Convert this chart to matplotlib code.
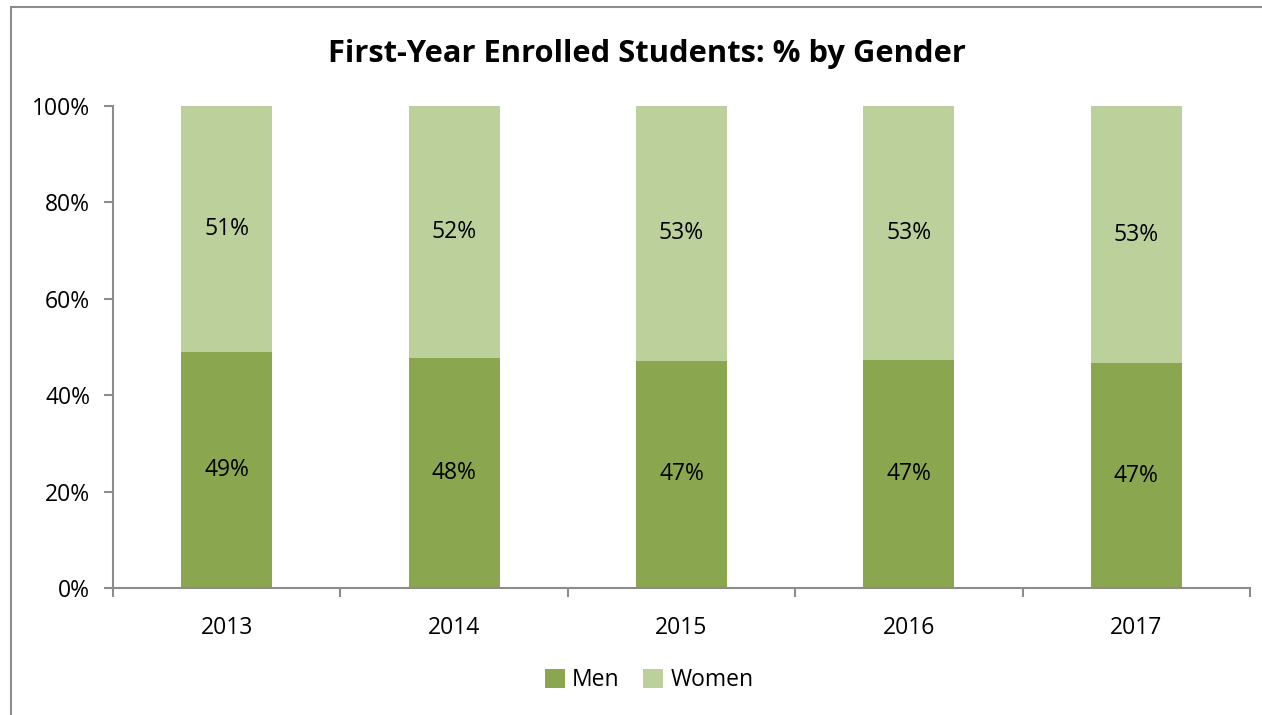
import matplotlib.pyplot as plt
import numpy as np
from matplotlib.patches import Rectangle

# data
years = ["2013", "2014", "2015", "2016", "2017"]
men = [48.9, 47.8, 47.1, 47.2, 46.6]
women = [51.1, 52.2, 52.9, 52.8, 53.4]
men_labels = ["49%", "48%", "47%", "47%", "47%"]
women_labels = ["51%", "52%", "53%", "53%", "53%"]

plt.rcParams['font.family'] = ['Open Sans', 'DejaVu Sans']

fig = plt.figure(figsize=(12.62, 7.15), dpi=100)
ax = fig.add_axes([113/1262, 1-588/715, (1250-113)/1262, (588-106)/715])

# outer chart border (Excel style)
fig.patches.append(Rectangle((11/1262, -0.1), 1.2, 1.1 - 7/715,
                             transform=fig.transFigure, fill=False,
                             edgecolor='#8c8c8c', linewidth=1.5))

x = np.arange(len(years))
c_men = '#8aa64f'
c_women = '#bbd09a'
b1 = ax.bar(x, men, width=0.4, color=c_men, label='Men')
b2 = ax.bar(x, women, width=0.4, bottom=men, color=c_women, label='Women')

fs = 16.5
for i in range(len(years)):
    ax.text(x[i], men[i]/2, men_labels[i], ha='center', va='center', fontsize=fs)
    ax.text(x[i], men[i] + women[i]/2, women_labels[i], ha='center', va='center', fontsize=fs)

ax.set_xlim(-0.5, 4.5)
ax.set_ylim(0, 100)
ax.set_yticks(np.arange(0, 101, 20))
ax.set_yticklabels([f"{v}%" for v in range(0, 101, 20)], fontsize=fs)
ax.set_xticks(x)
ax.set_xticklabels(years, fontsize=fs)
ax.set_xticks(np.arange(-0.5, 5, 1), minor=True)
ax.tick_params(axis='x', which='major', length=0, pad=20)
ax.tick_params(axis='x', which='minor', length=6.5, color='#8c8c8c', width=1.5)
ax.tick_params(axis='y', length=6.5, color='#8c8c8c', width=1.5, pad=10)

for s in ['top', 'right']:
    ax.spines[s].set_visible(False)
for s in ['left', 'bottom']:
    ax.spines[s].set_color('#8c8c8c')
    ax.spines[s].set_linewidth(1.5)

fig.suptitle("First-Year Enrolled Students: % by Gender", fontsize=22.2,
             fontweight='bold', y=1-54/715, va='center', x=646.5/1262)

fig.legend(handles=[b1, b2], labels=['Men', 'Women'], loc='center',
           bbox_to_anchor=(649/1262, 1-680/715), ncol=2, frameon=False, fontsize=fs,
           handlelength=0.9, handleheight=0.9, handletextpad=0.3, columnspacing=1.0)

fig.savefig("out.png", dpi=100)
